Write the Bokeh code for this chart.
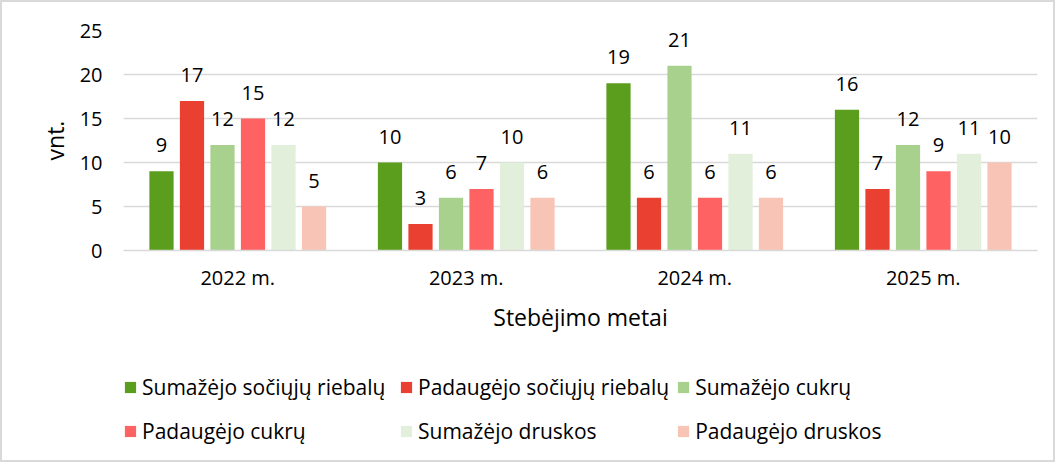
from bokeh.plotting import figure
from bokeh.layouts import column
from bokeh.models import ColumnDataSource, FactorRange, Range1d, FixedTicker, LabelSet, Legend, LegendItem
from bokeh.transform import dodge
from bokeh.core.properties import value
from bokeh.embed import file_html
from bokeh.resources import INLINE

years = ["2022 m.", "2023 m.", "2024 m.", "2025 m."]
series_names = [
    "Sumažėjo sočiųjų riebalų",
    "Padaugėjo sočiųjų riebalų",
    "Sumažėjo cukrų",
    "Padaugėjo cukrų",
    "Sumažėjo druskos",
    "Padaugėjo druskos",
]
sumazejo_riebalu = [9, 10, 19, 16]
padaugejo_riebalu = [17, 3, 6, 7]
sumazejo_cukru = [12, 6, 21, 12]
padaugejo_cukru = [15, 7, 6, 9]
sumazejo_druskos = [12, 10, 11, 11]
padaugejo_druskos = [5, 6, 6, 10]
colors = ["#5b9e1d", "#ea4032", "#a9d18e", "#ff6262", "#e2efda", "#f8c4b6"]

series = [sumazejo_riebalu, padaugejo_riebalu, sumazejo_cukru,
          padaugejo_cukru, sumazejo_druskos, padaugejo_druskos]

FONT = "Open Sans"
BORDER = "#d9d9d9"

p = figure(width=1055, height=350, x_range=FactorRange(*years), y_range=Range1d(0, 25),
           output_backend="svg", toolbar_location=None,
           min_border_left=118, min_border_right=20, min_border_top=28, min_border_bottom=102)
p.styles = {"border-style": "solid", "border-color": BORDER, "border-width": "2px 2px 0 2px",
            "box-sizing": "border-box"}
p.outline_line_color = None
p.background_fill_color = "white"

step = 0.1335
bw = 0.106
for i, (name, vals, col) in enumerate(zip(series_names, series, colors)):
    src = ColumnDataSource(dict(x=years, y=vals, t=[str(v) for v in vals]))
    off = (i - 2.5) * step
    p.vbar(x=dodge("x", off, range=p.x_range), top="y", width=bw, source=src,
           fill_color=col, line_color=None)
    lab = LabelSet(x=dodge("x", off, range=p.x_range), y="y", text="t", source=src,
                   text_align="center", text_baseline="middle", y_offset=26,
                   text_font=value(FONT), text_font_size="20px", text_color="#000000")
    p.add_layout(lab)

p.yaxis.ticker = FixedTicker(ticks=[0, 5, 10, 15, 20, 25])
p.ygrid.ticker = FixedTicker(ticks=[0, 5, 10, 15, 20, 25])
p.xgrid.grid_line_color = None
p.ygrid.grid_line_color = "#d9d9d9"
p.ygrid.grid_line_width = 1.5

p.yaxis.axis_line_color = None
p.yaxis.major_tick_line_color = None
p.yaxis.minor_tick_line_color = None
p.yaxis.major_label_standoff = 15
p.yaxis.major_label_text_font = FONT
p.yaxis.major_label_text_font_size = "20px"
p.yaxis.major_label_text_color = "#000000"
p.yaxis.axis_label = "vnt."
p.yaxis.axis_label_text_font = FONT
p.yaxis.axis_label_text_font_size = "23px"
p.yaxis.axis_label_text_font_style = "normal"
p.yaxis.axis_label_text_color = "#000000"
p.yaxis.axis_label_standoff = 6

p.xaxis.axis_line_color = "#d9d9d9"
p.xaxis.axis_line_width = 1.5
p.xaxis.major_tick_line_color = None
p.xaxis.minor_tick_line_color = None
p.xaxis.major_label_standoff = 7
p.xaxis.major_label_text_font = FONT
p.xaxis.major_label_text_font_size = "20px"
p.xaxis.major_label_text_color = "#000000"
p.xaxis.axis_label = "Stebėjimo metai"
p.xaxis.axis_label_text_font = FONT
p.xaxis.axis_label_text_font_size = "23px"
p.xaxis.axis_label_text_font_style = "normal"
p.xaxis.axis_label_text_color = "#000000"
p.xaxis.axis_label_standoff = 7

# legend panel: hidden copies of the series, only the legend shows
lg = figure(width=1055, height=112, x_range=FactorRange(*years), y_range=Range1d(0, 25),
            output_backend="svg", toolbar_location=None,
            min_border_left=121, min_border_right=0, min_border_top=18, min_border_bottom=0)
lg.styles = {"border-style": "solid", "border-color": BORDER, "border-width": "0 2px 2px 2px",
             "box-sizing": "border-box"}
lg.axis.visible = False
lg.grid.visible = False
lg.outline_line_color = None
items = []
for name, vals, col in zip(series_names, series, colors):
    src = ColumnDataSource(dict(x=years, top=vals))
    r = lg.vbar(x="x", top="top", width=0.1, source=src, fill_color=col, line_color=None)
    r.visible = False
    items.append(LegendItem(label=name, renderers=[r]))

legend = Legend(items=items, ncols=3, orientation="horizontal", location="top_left",
                glyph_width=14, glyph_height=14, label_standoff=5,
                label_width=250, label_height=37, spacing=7,
                label_text_font=FONT, label_text_font_size="21px", label_text_color="#000000",
                border_line_color=None, background_fill_alpha=0,
                inactive_fill_alpha=0,
                padding=0, margin=0)
lg.add_layout(legend, "center")

layout = column(p, lg, spacing=0)
open("out.html", "w").write(file_html(layout, INLINE))
